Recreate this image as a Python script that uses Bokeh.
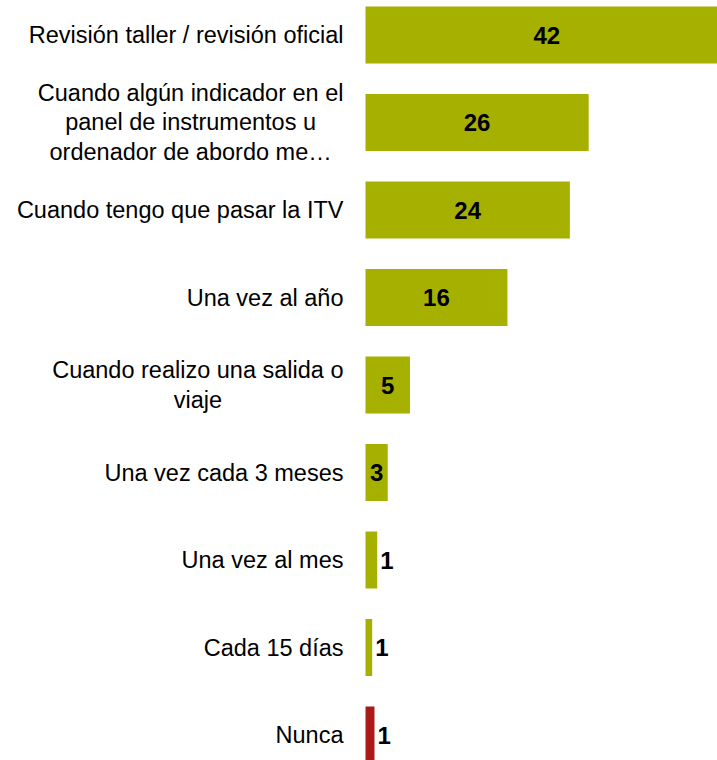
from bokeh.plotting import figure
from bokeh.models import ColumnDataSource, Range1d
from bokeh.core.properties import value
from bokeh.embed import file_html
from bokeh.resources import INLINE

# ---- data ----
categories = [
    "Revisión taller / revisión oficial",
    "Cuando algún indicador en el\npanel de instrumentos u\nordenador de abordo me…",
    "Cuando tengo que pasar la ITV",
    "Una vez al año",
    "Cuando realizo una salida o\nviaje",
    "Una vez cada 3 meses",
    "Una vez al mes",
    "Cada 15 días",
    "Nunca",
]
values = [42.4, 26.1, 23.9, 16.6, 5.2, 2.6, 1.37, 0.78, 1.05]
value_labels = ["42", "26", "24", "16", "5", "3", "1", "1", "1"]
bar_colors = ["#A5B000"] * 8 + ["#AB1919"]

# ---- layout constants ----
W, H = 717, 760
SCALE = 8.55          # px per unit
X0 = 365              # px of zero line inside the frame
ROW = 87.5            # px per category row
Y0 = 34.5             # px of first row center from top

idx = list(range(len(categories)))
inside = [v >= 2 for v in values]

src = ColumnDataSource(dict(y=idx, v=values, color=bar_colors))
in_src = ColumnDataSource(dict(
    x=[values[i] / 2 for i in idx if inside[i]],
    y=[i for i in idx if inside[i]],
    t=[value_labels[i] for i in idx if inside[i]],
))
out_src = ColumnDataSource(dict(
    x=[values[i] for i in idx if not inside[i]],
    y=[i for i in idx if not inside[i]],
    t=[value_labels[i] for i in idx if not inside[i]],
))
cat_src = ColumnDataSource(dict(
    x=[-22 / SCALE] * len(categories), y=idx, t=categories,
))

p = figure(width=W, height=H, output_backend="svg", toolbar_location=None,
           x_range=Range1d(-X0 / SCALE, (W - X0) / SCALE),
           y_range=Range1d((H - Y0) / ROW, -Y0 / ROW),
           min_border=0)
p.axis.visible = False
p.grid.visible = False
p.outline_line_color = None
p.background_fill_color = "white"

p.hbar(y="y", left=0, right="v", height=57 / ROW, color="color",
       line_color=None, source=src)

p.text(x="x", y="y", text="t", source=in_src, text_align="center",
       text_baseline="middle", text_font=value("Liberation Sans"),
       text_font_style="bold", text_font_size="24px", text_color="black")
p.text(x="x", y="y", text="t", source=out_src, text_align="left",
       text_baseline="middle", x_offset=3, text_font=value("Liberation Sans"),
       text_font_style="bold", text_font_size="24px", text_color="black")

p.text(x="x", y="y", text="t", source=cat_src, anchor="center_right",
       text_align="center", text_baseline="middle",
       text_font=value("Liberation Sans"), text_font_size="23.5px",
       text_line_height=1.14, text_color="black")

open("out.html", "w").write(file_html(p, INLINE))
